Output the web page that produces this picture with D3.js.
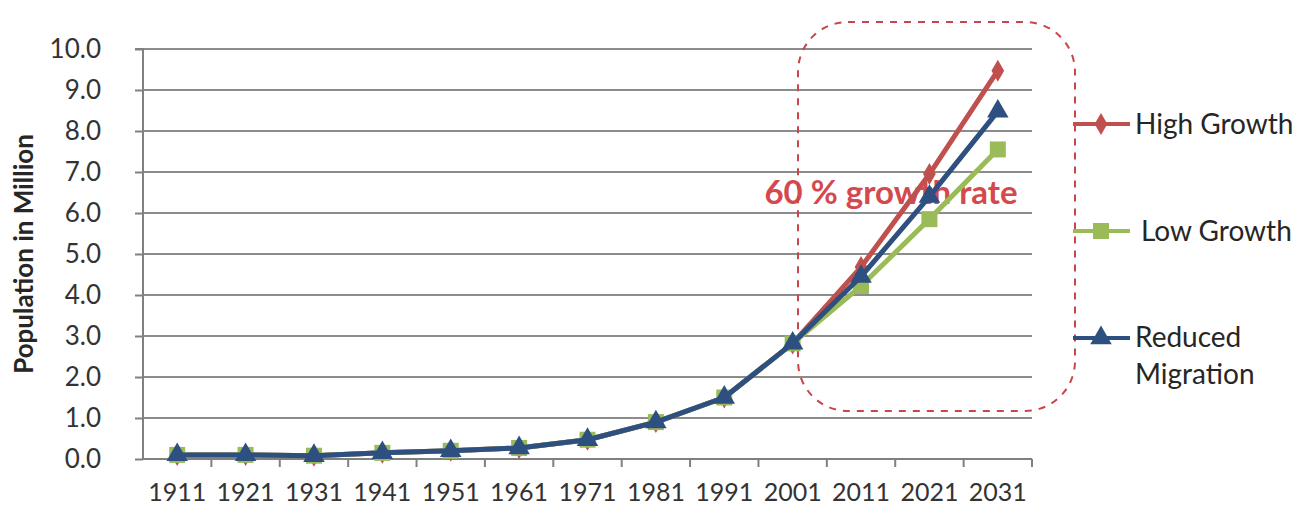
<!DOCTYPE html>
<html><head><meta charset="utf-8">
<script src="https://cdn.jsdelivr.net/npm/d3@7"></script>
<style>
html,body{margin:0;padding:0;background:#fff;}
svg{display:block;}
text{font-family:Lato, "Open Sans", sans-serif;fill:#404040;}
</style></head>
<body>
<svg id="chart" width="1312" height="515"></svg>
<script>
const years = ["1911","1921","1931","1941","1951","1961","1971","1981","1991","2001","2011","2021","2031"];
const highGrowth = [0.10,0.10,0.08,0.15,0.20,0.27,0.47,0.90,1.50,2.82,4.68,6.95,9.47];
const lowGrowth  = [0.10,0.10,0.08,0.15,0.20,0.27,0.47,0.90,1.50,2.82,4.22,5.85,7.55];
const reducedMigration = [0.10,0.10,0.08,0.15,0.20,0.27,0.47,0.90,1.50,2.82,4.45,6.40,8.48];
const yTicks = [0,1,2,3,4,5,6,7,8,9,10];
const seriesNames = ["High Growth","Low Growth","Reduced Migration"];
const seriesColors = ["#c0504d","#9bbb59","#2d5080"];
const annotation = "60 % growth rate";

const svg = d3.select("#chart");
const pLeft = 143, pRight = 1032, pTop = 49, pBottom = 459;

const x = d3.scaleBand().domain(years).range([pLeft, pRight]).padding(0);
const y = d3.scaleLinear().domain([0, 10]).range([pBottom, pTop]);
const cx = d => x(d) + x.bandwidth() / 2;

// gridlines
svg.append("g").selectAll("line").data(yTicks.filter(v => v > 0)).join("line")
  .attr("x1", pLeft).attr("x2", pRight)
  .attr("y1", d => y(d)).attr("y2", d => y(d))
  .attr("stroke", "#8c8c8c").attr("stroke-width", 2);

// y axis
const yAxis = d3.axisLeft(y).tickValues(yTicks).tickFormat(d3.format(".1f")).tickSize(8).tickPadding(34);
const gy = svg.append("g").attr("transform", `translate(${pLeft},0)`).call(yAxis);
gy.select(".domain").attr("stroke", "#808080").attr("stroke-width", 2).attr("d", `M-8,${pTop}H0V${pBottom}`);
gy.selectAll(".tick line").attr("stroke", "#808080").attr("stroke-width", 2);
gy.selectAll(".tick text").attr("font-size", 26).style("fill", "#333").style("font-family", "Lato");

// x axis
const gx = svg.append("g").attr("transform", `translate(0,${pBottom})`)
  .call(d3.axisBottom(x).tickSize(0).tickPadding(24));
gx.select(".domain").attr("stroke", "#808080").attr("stroke-width", 2).attr("d", `M${pLeft},0H${pRight}`);
gx.selectAll(".tick text").attr("font-size", 25).style("fill", "#333").style("font-family", "Lato");
// x tick marks at band boundaries
svg.append("g").selectAll("line").data(years).join("line")
  .attr("x1", d => x(d) + x.bandwidth()).attr("x2", d => x(d) + x.bandwidth())
  .attr("y1", pBottom).attr("y2", pBottom + 8)
  .attr("stroke", "#808080").attr("stroke-width", 2);

// y axis title
svg.append("text")
  .attr("transform", `translate(33,254) rotate(-90)`)
  .attr("text-anchor", "middle").attr("font-size", 26).attr("font-weight", "bold")
  .style("fill", "#262626").text("Population in Million");

// annotation text (under lines)
svg.append("text").attr("x", 891).attr("y", 204).attr("text-anchor", "middle")
  .attr("font-size", 33).attr("font-weight", "bold")
  .style("fill", "#d4494d").text(annotation);

// dashed rounded box
svg.append("rect").attr("x", 798).attr("y", 22).attr("width", 277).attr("height", 389)
  .attr("rx", 50).attr("ry", 50).attr("fill", "none")
  .attr("stroke", "#c8464a").attr("stroke-width", 2).attr("stroke-dasharray", "7,7");

const line = d3.line().x((d, i) => cx(years[i])).y(d => y(d));
const allSeries = [highGrowth, lowGrowth, reducedMigration];

function marker(g, type, color, px, py) {
  const sym = type === 0 ? d3.symbol(d3.symbolDiamond, 140) : type === 1 ? d3.symbol(d3.symbolSquare, 256) : d3.symbol(d3.symbolTriangle, 200);
  g.append("path").attr("d", sym()).attr("transform", `translate(${px},${py})`).attr("fill", color);
}

allSeries.forEach((vals, s) => {
  const g = svg.append("g");
  g.append("path").datum(vals).attr("d", line).attr("fill", "none")
    .attr("stroke", seriesColors[s]).attr("stroke-width", 5).attr("stroke-linejoin", "round");
  vals.forEach((v, i) => marker(g, s, seriesColors[s], cx(years[i]), y(v)));
});

// legend
const legY = [124, 231, 338];
seriesNames.forEach((name, s) => {
  const g = svg.append("g");
  g.append("line").attr("x1", 1073).attr("x2", 1130).attr("y1", legY[s]).attr("y2", legY[s])
    .attr("stroke", seriesColors[s]).attr("stroke-width", 4);
  marker(g, s, seriesColors[s], 1101, legY[s]);
  if (s === 2) {
    const t = g.append("text").attr("x", 1135).attr("y", legY[s] + 9).attr("font-size", 28).style("fill", "#262626");
    t.append("tspan").attr("x", 1135).text("Reduced");
    t.append("tspan").attr("x", 1135).attr("dy", 37).text("Migration");
  } else {
    g.append("text").attr("x", s === 1 ? 1141 : 1135).attr("y", legY[s] + 10).attr("font-size", 28)
      .style("fill", "#262626").text(name);
  }
});
</script>
</body></html>
